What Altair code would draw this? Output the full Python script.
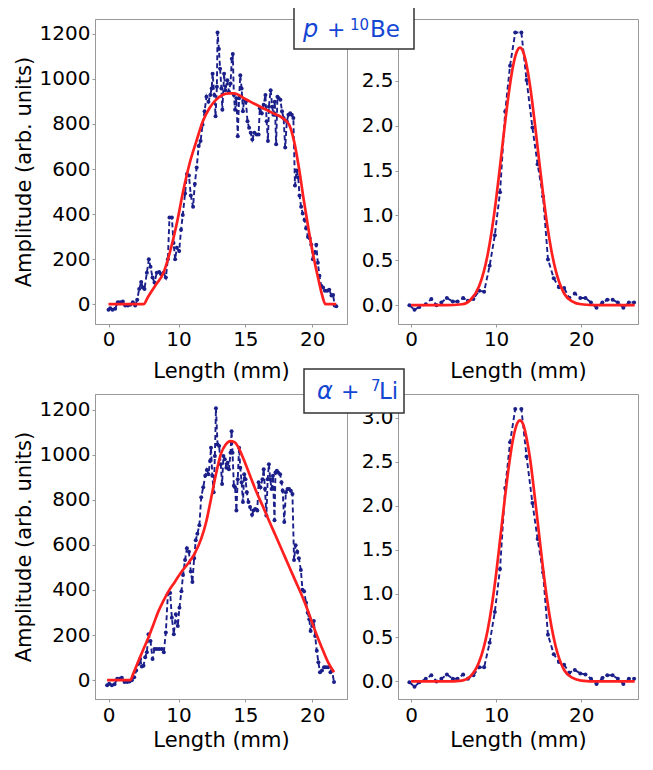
import altair as alt
import pandas as pd

FONT = "DejaVu Sans"
NAVY = "#1b1f8a"
RED = "#ff1f1f"
BLUE = "#1446d4"

# ---------- top-left: p + 10Be, measured amplitude (x mm, amplitude) ----------
tl_points = [
    (0.0, -25), (0.24, -18), (0.57, -25), (0.95, -20), (1.33, 9), (1.67, 9), (2.05, 12), (2.38, -6),
    (2.76, -6), (3.1, -3), (3.48, 9), (3.81, -6), (4.1, 20), (4.38, 67), (4.67, 99), (4.9, 74),
    (5.14, 67), (5.48, 140), (5.76, 199), (6.0, 166), (6.29, 118), (6.57, 96), (6.9, 140), (7.24, 143),
    (7.52, 133), (7.86, 140), (8.19, 118), (8.48, 199), (8.71, 385), (9.05, 385), (9.29, 272), (9.52, 199),
    (9.76, 250), (10.05, 236), (10.19, 330), (10.32, 396), (10.49, 491), (10.63, 578), (10.78, 571),
    (10.92, 483), (11.09, 432), (11.22, 534), (11.36, 607), (11.51, 702), (11.65, 724), (11.8, 797),
    (11.95, 856), (12.09, 921), (12.24, 899), (12.38, 929), (12.48, 958), (12.55, 1023), (12.68, 929),
    (12.77, 834), (12.87, 965), (12.92, 1206), (13.02, 1133), (13.11, 1045), (13.21, 958), (13.28, 863),
    (13.41, 1023), (13.5, 950), (13.65, 994), (13.77, 943), (13.89, 980), (13.99, 1089), (14.06, 1111),
    (14.14, 929), (14.23, 863), (14.33, 914), (14.43, 746), (14.53, 914), (14.62, 1016), (14.72, 958),
    (14.82, 856), (14.91, 907), (15.04, 899), (15.16, 812), (15.28, 783), (15.4, 761), (15.52, 731),
    (15.67, 761), (15.84, 753), (15.99, 753), (16.08, 870), (16.23, 848), (16.37, 885), (16.5, 929),
    (16.59, 812), (16.69, 724), (16.76, 877), (16.89, 950), (17.01, 877), (17.1, 841), (17.2, 899),
    (17.3, 710), (17.4, 921), (17.49, 914), (17.62, 907), (17.74, 856), (17.86, 826), (17.98, 695),
    (18.1, 812), (18.22, 841), (18.35, 848), (18.47, 841), (18.59, 826), (18.71, 527), (18.83, 593),
    (18.95, 564), (19.05, 483), (19.17, 432), (19.29, 403), (19.42, 374), (19.54, 337), (19.68, 298),
    (19.81, 293), (19.93, 264), (20.05, 199), (20.18, 228), (20.3, 264), (20.42, 184), (20.54, 126),
    (20.67, 82), (20.81, 74), (20.95, 60), (21.12, 60), (21.27, 64), (21.44, 38), (21.56, 41),
    (21.68, -6), (21.8, -9),
]
tl_fit = [
    (0.0, 0), (5.0, 0), (5.62, 31), (6.67, 82), (7.86, 140), (8.81, 235), (9.76, 359), (10.36, 505),
    (10.85, 629), (11.34, 724), (11.82, 812), (12.31, 870), (12.8, 907), (13.28, 929), (13.77, 936),
    (14.14, 936), (14.5, 929), (14.99, 911), (15.6, 892), (16.33, 870), (17.06, 848), (17.79, 826),
    (18.27, 797), (18.64, 724), (19.0, 607), (19.37, 461), (19.73, 330), (20.09, 213), (20.46, 111),
    (20.75, 38), (20.99, 0), (21.8, 0),
]

# ---------- bottom-left: alpha + 7Li, measured amplitude ----------
bl_points = [
    (-0.2, -23), (0.1, -16), (0.48, -23), (0.86, -19), (1.24, 6), (1.57, 6), (1.9, 10), (2.29, -9),
    (2.67, -9), (3.0, -6), (3.33, -1), (3.67, 13), (3.95, 42), (4.29, 72), (4.52, 94), (4.76, 60),
    (5.0, 64), (5.24, 101), (5.48, 123), (5.71, 204), (6.0, 174), (6.29, 94), (6.57, 138), (6.9, 138),
    (7.24, 138), (7.62, 138), (7.9, 123), (8.19, 211), (8.48, 382), (8.81, 387), (9.05, 277), (9.33, 204),
    (9.62, 292), (9.9, 240), (10.07, 321), (10.22, 394), (10.34, 467), (10.49, 533), (10.63, 585),
    (10.78, 570), (10.92, 482), (11.04, 435), (11.17, 541), (11.29, 621), (11.41, 650), (11.56, 687),
    (11.7, 812), (11.85, 856), (12.0, 907), (12.12, 933), (12.24, 914), (12.36, 973), (12.43, 1031),
    (12.53, 907), (12.63, 834), (12.72, 995), (12.8, 1207), (12.92, 1046), (13.04, 1039), (13.16, 958),
    (13.26, 870), (13.36, 995), (13.46, 980), (13.58, 943), (13.67, 965), (13.77, 936), (13.89, 1009),
    (13.97, 1105), (14.04, 1009), (14.14, 863), (14.23, 856), (14.33, 753), (14.43, 892), (14.53, 1031),
    (14.62, 943), (14.72, 878), (14.82, 790), (14.91, 914), (15.01, 892), (15.11, 834), (15.23, 790),
    (15.35, 768), (15.5, 734), (15.6, 753), (15.74, 760), (15.89, 753), (15.99, 878), (16.13, 856),
    (16.28, 892), (16.37, 936), (16.47, 848), (16.57, 731), (16.67, 892), (16.76, 958), (16.86, 892),
    (16.96, 848), (17.06, 907), (17.18, 709), (17.25, 921), (17.35, 929), (17.45, 921), (17.6, 914),
    (17.7, 878), (17.79, 841), (17.91, 702), (18.03, 834), (18.15, 848), (18.27, 848), (18.4, 841),
    (18.52, 826), (18.64, 533), (18.76, 599), (18.88, 570), (19.0, 541), (19.15, 489), (19.27, 401),
    (19.39, 394), (19.54, 343), (19.66, 299), (19.78, 270), (19.88, 218), (20.0, 240), (20.12, 262),
    (20.22, 196), (20.34, 130), (20.46, 79), (20.58, 35), (20.73, 42), (20.88, 57), (21.02, 57),
    (21.19, 57), (21.36, 35), (21.48, 42), (21.63, -9),
]
bl_fit = [
    (-0.2, 0), (3.1, 0), (3.57, 31), (4.29, 86), (5.0, 138), (5.71, 189), (6.43, 248), (7.14, 306),
    (7.86, 353), (8.57, 394), (9.52, 438), (10.24, 482), (10.73, 519), (11.22, 563), (11.7, 628),
    (12.07, 702), (12.43, 804), (12.8, 914), (13.16, 1002), (13.53, 1046), (13.89, 1061), (14.18, 1056),
    (14.5, 1031), (14.87, 980), (15.35, 907), (15.84, 834), (16.33, 768), (16.81, 702), (17.3, 636),
    (17.79, 570), (18.27, 504), (18.76, 438), (19.25, 372), (19.73, 299), (20.22, 218), (20.71, 145),
    (21.19, 79), (21.63, 35),
]

# ---------- right panels: profile along the other direction ----------
r_x = [-0.2, 0.40, 0.97, 1.73, 2.38, 2.99, 3.56, 4.21, 4.90, 5.47, 6.12, 6.69, 7.33, 8.02, 8.59,
       9.24, 9.85, 10.46, 11.07, 11.64, 12.25, 12.97, 13.58, 14.27, 14.88, 15.52, 16.10, 16.78,
       17.39, 18.0, 18.61, 19.26, 19.90, 20.51, 21.16, 21.81, 22.5, 23.07, 23.71, 24.32, 24.97,
       25.62, 26.23]
tr_y = [0.0, -0.05, -0.02, 0.01, 0.07, 0.0, 0.03, 0.08, 0.04, 0.04, 0.08, 0.05, 0.07, 0.16, 0.15,
        0.44, 0.78, 1.26, 2.16, 2.67, 3.04, 3.04, 2.51, 1.98, 1.57, 1.21, 0.51, 0.30, 0.20, 0.19,
        0.08, 0.13, 0.08, 0.08, 0.03, -0.03, 0.03, 0.06, 0.06, 0.03, -0.03, 0.03, 0.03]
br_y = [-0.01, -0.06, -0.01, 0.03, 0.07, 0.0, 0.03, 0.08, 0.03, 0.03, 0.08, 0.03, 0.07, 0.16, 0.16,
        0.44, 0.79, 1.28, 2.20, 2.72, 3.10, 3.10, 2.56, 2.03, 1.62, 1.24, 0.53, 0.31, 0.22, 0.19,
        0.10, 0.13, 0.09, 0.08, 0.03, -0.03, 0.04, 0.07, 0.07, 0.03, -0.03, 0.03, 0.03]
r_fit_x = [0, 2, 4, 6, 7, 8, 9, 10, 10.5, 11, 11.5, 12, 12.5, 12.8, 13.2, 13.6, 14, 14.5, 15, 15.5,
           16, 16.5, 17, 18, 19, 20, 22, 24, 26.3]
tr_fit_y = [0, 0, 0, 0.01, 0.06, 0.21, 0.56, 1.18, 1.58, 1.99, 2.37, 2.67, 2.84, 2.87, 2.82, 2.67,
            2.44, 2.07, 1.66, 1.26, 0.90, 0.61, 0.39, 0.13, 0.04, 0.01, 0, 0, 0]
br_fit_y = [0, 0, 0, 0.01, 0.06, 0.22, 0.58, 1.22, 1.64, 2.06, 2.45, 2.76, 2.94, 2.97, 2.92, 2.76,
            2.53, 2.14, 1.72, 1.30, 0.93, 0.63, 0.40, 0.13, 0.04, 0.01, 0, 0, 0]

left_xticks = [0, 10, 15, 20]
right_xticks = [0, 10, 20]
amp_ticks = [0, 200, 400, 600, 800, 1000, 1200]
r_ticks = [0.0, 0.5, 1.0, 1.5, 2.0, 2.5, 3.0]

LW, RW, H = 252, 240, 305


def one(values):
    return alt.Data(values=[{"k": values}])


def label_box(box, pieces):
    x0, x1, y0, y1 = box
    layers = [
        alt.Chart(one(0)).mark_rect(fill="white", stroke="#333333", strokeWidth=1.5).encode(
            x=alt.value(x0), x2=alt.value(x1), y=alt.value(y0), y2=alt.value(y1))
    ]
    for txt, px, py, size, style in pieces:
        layers.append(
            alt.Chart(one(1)).mark_text(text=txt, font=FONT, fontSize=size, fontStyle=style,
                                        color=BLUE, align="left", baseline="alphabetic").encode(
                x=alt.value(px), y=alt.value(py)))
    return layers


def panel(points, fit, xscale, xticks, yscale, yticks, yfmt, ytitle, width, extra, lab_pad, title_y):
    pts = pd.DataFrame(points, columns=["x", "y"])
    fdf = pd.DataFrame(fit, columns=["x", "y"])
    yaxis = alt.Axis(values=yticks, format=yfmt, grid=False, title=ytitle)
    xaxis = alt.Axis(values=xticks, grid=False, title="Length (mm)", format="d",
                     labelPadding=lab_pad, titleY=title_y, titleBaseline="alphabetic")
    base_x = alt.X("x:Q", scale=xscale, axis=xaxis)
    base_y = alt.Y("y:Q", scale=yscale, axis=yaxis)
    line = alt.Chart(pts).mark_line(color=NAVY, strokeDash=[5, 3], strokeWidth=1.9).encode(
        x=base_x, y=base_y)
    dots = alt.Chart(pts).mark_circle(color=NAVY, size=16, opacity=1).encode(x="x:Q", y="y:Q")
    red = alt.Chart(fdf).mark_line(color=RED, strokeWidth=2.7, interpolate="monotone").encode(
        x="x:Q", y="y:Q")
    return alt.layer(line, dots, red, *extra).properties(width=width, height=H)


left_x = alt.Scale(domain=[-1.93, 10, 22.6], range=[0, 83.5, LW], nice=False, zero=False)
right_x = alt.Scale(domain=[-1.54, 26.69], nice=False, zero=False)

tl = panel(tl_points, tl_fit, left_x, left_xticks,
           alt.Scale(domain=[-88, 1266], nice=False, zero=False), amp_ticks, "d",
           "Amplitude (arb. units)", LW, [], 2, 53)
tr = panel(list(zip(r_x, tr_y)), list(zip(r_fit_x, tr_fit_y)), right_x, right_xticks,
           alt.Scale(domain=[-0.21, 3.19], nice=False, zero=False), r_ticks, ".1f", None, RW,
           label_box((-104, 16, -16, 30),
                     [("p", -95, 18, 24, "italic"), ("+", -71, 18, 22, "normal"),
                      ("10", -48, 11, 15, "normal"), ("Be", -28, 18, 23, "normal")]), 2, 53)
bl = panel(bl_points, bl_fit, left_x, left_xticks,
           alt.Scale(domain=[-84, 1270], nice=False, zero=False), amp_ticks, "d",
           "Amplitude (arb. units)", LW, [], 3, 47)
br = panel(list(zip(r_x, br_y)), list(zip(r_fit_x, br_fit_y)), right_x, right_xticks,
           alt.Scale(domain=[-0.2, 3.27], nice=False, zero=False), r_ticks, ".1f", None, RW,
           label_box((-94, 6, -25, 19),
                     [("α", -81, 5, 24, "italic"), ("+", -57, 5, 22, "normal"),
                      ("7", -27, -3, 15, "normal"), ("Li", -19, 5, 23, "normal")]), 3, 47)

chart = alt.concat(
    tl, tr, bl, br, columns=2, spacing={"row": 70, "column": 51}, bounds="flush"
).properties(
    padding={"left": 4, "top": -7, "right": 0, "bottom": 0}
).configure_axis(
    labelFont=FONT, labelFontSize=20, labelColor="black",
    titleFont=FONT, titleFontSize=21, titleFontWeight="normal", titleColor="black",
    domainColor="#999999", tickColor="#999999", tickSize=3, labelPadding=2, titlePadding=5,
).configure_view(stroke="#999999", strokeWidth=1)

chart.save("out.html", embed_options={"renderer": "svg", "actions": False})
